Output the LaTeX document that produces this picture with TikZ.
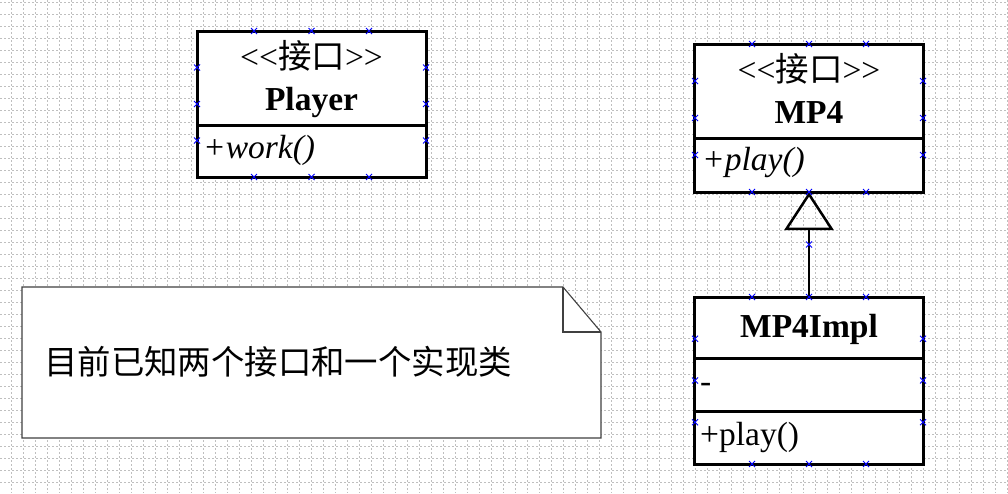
\documentclass[tikz,border=0pt]{standalone}
\usepackage{fontspec}
\setmainfont{Liberation Serif}
\newfontfamily\cjk{Noto Sans CJK SC}
\usetikzlibrary{arrows.meta,shapes.misc}
\tikzset{
  gridline/.style={draw=black!25, line width=0.8pt, dash pattern=on 2pt off 2pt},
  umlbox/.style={draw=black, line width=3pt, fill=white, inner sep=0pt, outer sep=0pt, minimum width=229pt},
  umltxt/.style={inner sep=0pt, font=\fontsize{33.5}{38}\selectfont},
  handle/.style={cross out, draw=blue, line width=1pt, minimum size=5pt, inner sep=0pt, fill=white},
  notebox/.style={draw=black!75, line width=1.1pt, fill=white, line join=miter},
  realize/.style={-{Triangle[open, length=38pt, width=49pt, line width=2.5pt]}, line width=2pt},
}
\begin{document}
\begin{tikzpicture}[x=1pt,y=-1pt]
\useasboundingbox (0,0) rectangle (1008,493);
\fill[white] (0,0) rectangle (1008,493);
% background grid
\foreach \i in {0,...,83} \draw[gridline] ({11.7+12*\i},0) -- ({11.7+12*\i},493);
\foreach \j in {0,...,40} \draw[gridline] (0,{2.7+12*\j}) -- (1008,{2.7+12*\j});

% Player interface
\node[umlbox, minimum height=94pt] (playerHead) at (311.5,78) {};
\node[umlbox, minimum height=52pt] (playerOps) at (311.5,151) {};
\node[umltxt, anchor=base] (playerSt) at (311.5,68) {<\kern0pt<{\cjk 接口}>\kern0pt>};
\node[umltxt, anchor=base] (playerName) at (311.5,110) {\bfseries Player};
\node[umltxt, anchor=base west] (playerOp) at (203,158) {\itshape +work()};

% MP4 interface
\node[umlbox, minimum height=94pt] (mp4Head) at (809,91) {};
\node[umlbox, minimum height=54pt] (mp4Ops) at (809,165) {};
\node[umltxt, anchor=base] (mp4St) at (809,81) {<\kern0pt<{\cjk 接口}>\kern0pt>};
\node[umltxt, anchor=base] (mp4Name) at (809,123) {\bfseries MP4};
\node[umltxt, anchor=base west] (mp4Op) at (702,170) {\itshape +play()};

% MP4Impl class
\node[umlbox, minimum height=61pt] (implHead) at (809,327.5) {};
\node[umlbox, minimum height=53pt] (implAttr) at (809,384.5) {};
\node[umlbox, minimum height=53pt] (implOps) at (809,437.5) {};
\node[umltxt, anchor=base] (implName) at (809,337) {\bfseries MP4Impl};
\node[umltxt, anchor=base west] (implAttrTxt) at (700,392) {-};
\node[umltxt, anchor=base west] (implOpTxt) at (700,445) {+play()};

% realization
\draw[realize] (implHead.north) -- (mp4Ops.south);

% note
\coordinate (nTL) at (22,287);
\coordinate (nFold) at (563,287);
\coordinate (nFoldIn) at (563,332);
\coordinate (nR) at (601,332);
\coordinate (nBR) at (601,438);
\coordinate (nBL) at (22,438);
\draw[notebox] (nTL) -- (nFold) -- (nR) -- (nBR) -- (nBL) -- cycle;
\draw[notebox, fill=none] (nFold) -- (nFoldIn) -- (nR);
\node[inner sep=0pt, anchor=west, font=\cjk\fontsize{33.4}{36}\selectfont] (noteText) at (44,362) {目前已知两个接口和一个实现类};

% selection handles
\foreach \x in {254,311.5,369} {
  \node[handle] at (\x,31) {};
  \node[handle] at (\x,177) {};
}
\foreach \y in {67.5,104,140.5} {
  \node[handle] at (197,\y) {};
  \node[handle] at (426,\y) {};
}
\foreach \x in {752,809,866} {
  \node[handle] at (\x,44) {};
  \node[handle] at (\x,192) {};
  \node[handle] at (\x,297) {};
  \node[handle] at (\x,464) {};
}
\foreach \y in {81,118,155} {
  \node[handle] at (695,\y) {};
  \node[handle] at (923,\y) {};
}
\foreach \y in {338.75,380.5,422.25} {
  \node[handle] at (695,\y) {};
  \node[handle] at (923,\y) {};
}
\node[handle] at (809,244.5) {};
\end{tikzpicture}
\end{document}
